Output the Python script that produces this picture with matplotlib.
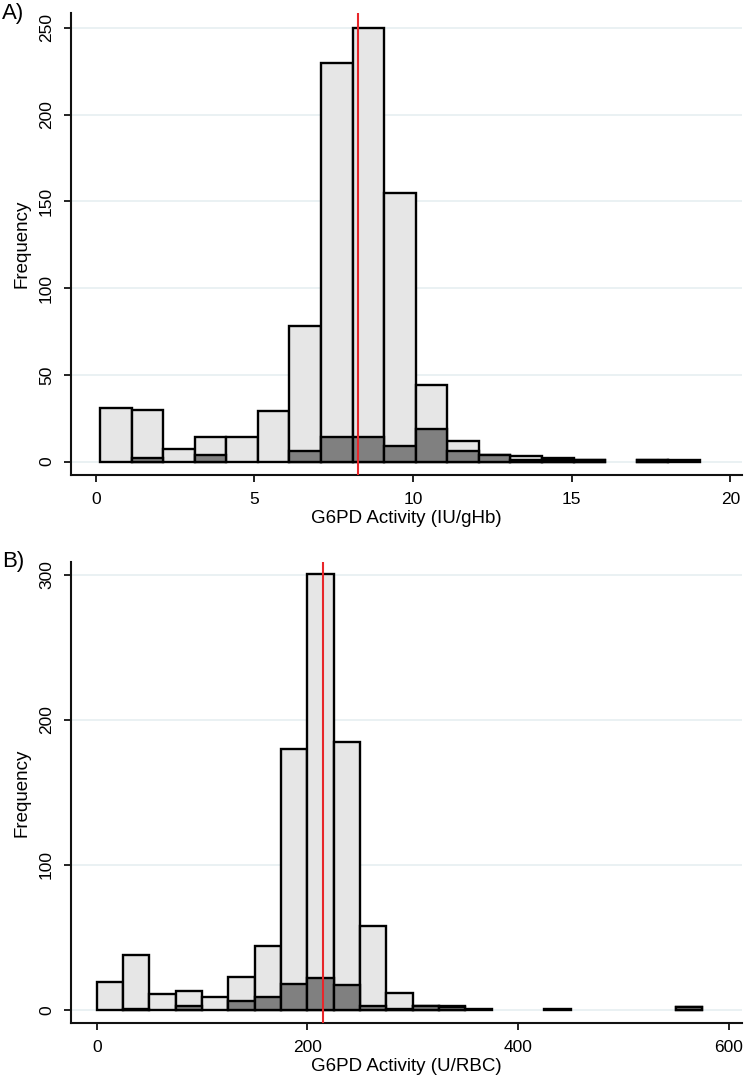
import numpy as np
import matplotlib.pyplot as plt

plt.rcParams['font.family'] = ['Liberation Sans', 'DejaVu Sans']

# panel A: G6PD activity (IU/gHb), all samples vs. subgroup
a_start, a_width = 0.136, 0.995
a_total = [31, 30, 7, 14, 14, 29, 78, 230, 250, 155, 44, 12, 4, 3, 2, 1, 0, 1, 1]
a_sub = [0, 2, 0, 4, 0, 0, 6, 14, 14, 9, 19, 6, 4, 1, 1, 1, 0, 1, 0]
a_median = 8.28
a_xticks = [0, 5, 10, 15, 20]
a_yticks = [0, 50, 100, 150, 200, 250]

# panel B: G6PD activity (U/RBC)
b_start, b_width = 0.0, 25.0
b_total = [19, 38, 11, 13, 9, 23, 44, 180, 301, 185, 58, 12, 3, 3, 1, 0, 0, 1, 0, 0, 0, 0, 2]
b_sub = [0, 1, 0, 3, 0, 6, 9, 18, 22, 17, 3, 1, 3, 2, 0, 0, 0, 0, 0, 0, 0, 0, 2]
b_median = 214.6
b_xticks = [0, 200, 400, 600]
b_yticks = [0, 100, 200, 300]

W, H = 747, 1078
fig = plt.figure(figsize=(W / 100, H / 100), dpi=100)


def hist_bars(ax, edges, counts, width, color, z):
    counts = np.asarray(counts, dtype=float)
    keep = counts > 0  # empty bins are not drawn
    ax.bar(edges[keep], counts[keep], width=width, align='edge', color=color,
           edgecolor='black', linewidth=1.7, zorder=z)


def panel(rect, start, width, total, sub, med, xticks, yticks, xlim, ylim, xlabel):
    ax = fig.add_axes(rect)
    edges = start + width * np.arange(len(total))
    hist_bars(ax, edges, total, width, '#e6e6e6', 2)
    hist_bars(ax, edges, sub, width, '#808080', 3)
    ax.axvline(med, color='#e8262a', lw=1.5, zorder=4)
    ax.set_xlim(*xlim)
    ax.set_ylim(*ylim)
    ax.set_xticks(xticks)
    ax.set_yticks(yticks)
    ax.set_yticklabels([str(t) for t in yticks], rotation=90, va='center')
    ax.yaxis.grid(True, color='#e4eef0', lw=1.1, zorder=0)
    ax.set_axisbelow(True)
    for s in ['top', 'right']:
        ax.spines[s].set_visible(False)
    for s in ['left', 'bottom']:
        ax.spines[s].set_linewidth(1.5)
        ax.spines[s].set_color('#111111')
    ax.tick_params(axis='both', labelsize=12.5, length=5, width=1.3, pad=7, color='#111111')
    ax.set_xlabel(xlabel, fontsize=13.5)
    ax.set_ylabel('Frequency', fontsize=13.5)
    ax.xaxis.set_label_coords(0.5, -0.075)
    ax.yaxis.set_label_coords(-0.06, 0.5)
    return ax


def frac(left, top, right, bottom):
    return [left / W, 1 - bottom / H, (right - left) / W, (bottom - top) / H]


panel(frac(70.7, 12.7, 742, 475), a_start, a_width, a_total, a_sub, a_median,
      a_xticks, a_yticks, (-0.79, 20.37), (-7.7, 258.8), 'G6PD Activity (IU/gHb)')
panel(frac(70.7, 561.7, 742, 1023.3), b_start, b_width, b_total, b_sub, b_median,
      b_xticks, b_yticks, (-24.7, 612.6), (-9.2, 309.2), 'G6PD Activity (U/RBC)')

fig.text(2 / W, 1 - 3 / H, 'A)', fontsize=16, va='top', ha='left')
fig.text(2 / W, 1 - 551 / H, 'B)', fontsize=16, va='top', ha='left')

fig.savefig('out.png', dpi=100)
